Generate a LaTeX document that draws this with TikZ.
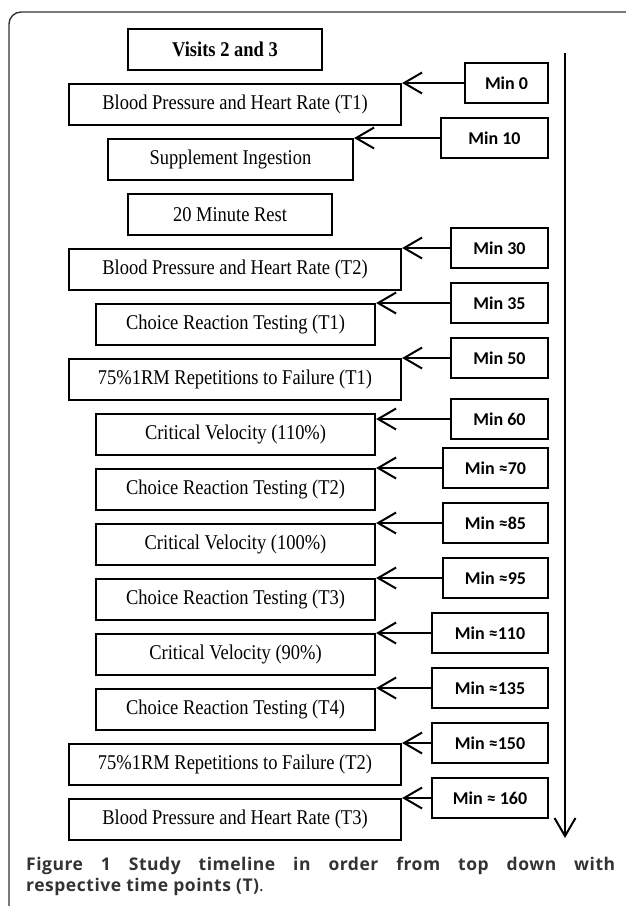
\documentclass[tikz,border=0pt]{standalone}
\usepackage{fontspec}
\setmainfont{Liberation Serif}[FakeStretch=0.88]
\newfontfamily\minfont{Carlito}
\newfontfamily\capfont{Open Sans}[LetterSpace=3]
\usetikzlibrary{arrows.meta}

\tikzset{
  task/.style={draw, line width=2.2pt, minimum height=41pt, inner sep=0pt,
    font=\fontsize{21}{22}\selectfont},
  tpoint/.style={draw, line width=2.2pt, minimum height=40pt, inner sep=0pt,
    font=\minfont\bfseries\fontsize{18}{20}\selectfont},
  link/.style={line width=2pt, -{Straight Barb[length=18pt, width=21pt, line width=2pt]}},
}

\begin{document}
\begin{tikzpicture}[x=1pt, y=-1pt]
  \useasboundingbox (0,0) rectangle (625,906);

  % outer frame (only top and left edge show)
  \draw[line width=1.4pt, black!80, rounded corners=12pt] (9,940) -- (9,12) -- (660,12);

  % steps of the visit, top down
  \node[task, minimum width=194pt, font=\bfseries\fontsize{21}{22}\selectfont] (visit) at (225,49.5) {Visits 2 and 3};
  \node[task, minimum width=332pt] (bp1) at (235,104.5) {Blood Pressure and Heart Rate (T1)};
  \node[task, minimum width=245pt] (supp) at (230.5,159.5) {Supplement Ingestion};
  \node[task, minimum width=204pt] (rest) at (230,214.5) {20 Minute Rest};
  \node[task, minimum width=332pt] (bp2) at (235,269.5) {Blood Pressure and Heart Rate (T2)};
  \node[task, minimum width=279pt] (cr1) at (235.5,324.5) {Choice Reaction Testing (T1)};
  \node[task, minimum width=332pt] (rm1) at (235,379.5) {75\%1RM Repetitions to Failure (T1)};
  \node[task, minimum width=279pt] (cv1) at (235.5,434.5) {Critical Velocity (110\%)};
  \node[task, minimum width=279pt] (cr2) at (235.5,489.5) {Choice Reaction Testing (T2)};
  \node[task, minimum width=279pt] (cv2) at (235.5,544.5) {Critical Velocity (100\%)};
  \node[task, minimum width=279pt] (cr3) at (235.5,599.5) {Choice Reaction Testing (T3)};
  \node[task, minimum width=279pt] (cv3) at (235.5,654.5) {Critical Velocity (90\%)};
  \node[task, minimum width=279pt] (cr4) at (235.5,709.5) {Choice Reaction Testing (T4)};
  \node[task, minimum width=332pt] (rm2) at (235,764.5) {75\%1RM Repetitions to Failure (T2)};
  \node[task, minimum width=332pt] (bp3) at (235,819.5) {Blood Pressure and Heart Rate (T3)};

  % time points
  \node[tpoint, minimum width=83pt] (m0) at (506.5,83) {Min 0};
  \node[tpoint, minimum width=107pt] (m10) at (494.5,138) {Min 10};
  \node[tpoint, minimum width=97pt] (m30) at (499.5,248) {Min 30};
  \node[tpoint, minimum width=97pt] (m35) at (499.5,303) {Min 35};
  \node[tpoint, minimum width=97pt] (m50) at (499.5,358) {Min 50};
  \node[tpoint, minimum width=97pt] (m60) at (499.5,419) {Min 60};
  \node[tpoint, minimum width=105pt] (m70) at (495.5,468) {Min ≈70};
  \node[tpoint, minimum width=105pt] (m85) at (495.5,523) {Min ≈85};
  \node[tpoint, minimum width=105pt] (m95) at (495.5,578) {Min ≈95};
  \node[tpoint, minimum width=116pt] (m110) at (490,633) {Min ≈110};
  \node[tpoint, minimum width=116pt] (m135) at (490,688) {Min ≈135};
  \node[tpoint, minimum width=116pt] (m150) at (490,743) {Min ≈150};
  \node[tpoint, minimum width=116pt] (m160) at (490,798) {Min ≈ 160};

  % time point -> step
  \draw[link] (m0.west) -- (m0.west -| bp1.east);
  \draw[link] (m10.west) -- (m10.west -| supp.east);
  \draw[link] (m30.west) -- (m30.west -| bp2.east);
  \draw[link] (m35.west) -- (m35.west -| cr1.east);
  \draw[link] (m50.west) -- (m50.west -| rm1.east);
  \draw[link] (m60.west) -- (m60.west -| cv1.east);
  \draw[link] (m70.west) -- (m70.west -| cr2.east);
  \draw[link] (m85.west) -- (m85.west -| cv2.east);
  \draw[link] (m95.west) -- (m95.west -| cr3.east);
  \draw[link] (m110.west) -- (m110.west -| cv3.east);
  \draw[link] (m135.west) -- (m135.west -| cr4.east);
  \draw[link] (m150.west) -- (m150.west -| rm2.east);
  \draw[link] (m160.west) -- (m160.west -| bp3.east);

  % time axis
  \coordinate (tstart) at (565,53);
  \coordinate (tend) at (565,838);
  \draw[link] (tstart) -- (tend);

  % caption
  \node[anchor=north west, text width=589pt, align=justify, inner sep=0pt, text=black!80,
    font=\capfont\bfseries\fontsize{17.5}{21}\selectfont] (caption) at (26,857)
    {Figure 1 Study timeline in order from top down with\linebreak respective time points (T)\mdseries.};
\end{tikzpicture}
\end{document}
